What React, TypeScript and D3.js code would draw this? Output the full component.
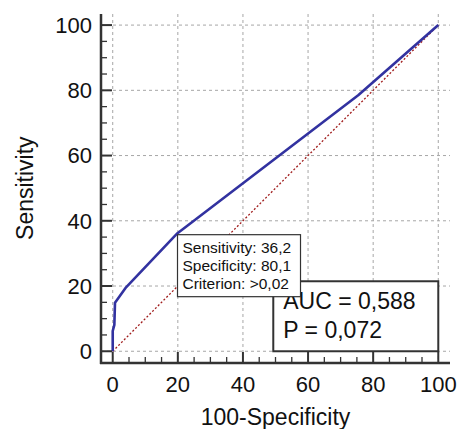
import * as d3 from 'd3';
import React, { useEffect, useRef } from 'react';

// ROC curve points (100-Specificity, Sensitivity)
const rocFpr = [0, 0, 0.5, 0.7, 4.1, 19.9, 75.4, 100];
const rocTpr = [0, 6.2, 8.1, 14.9, 19.6, 36.2, 78.5, 100];
const majorTicks = [0, 20, 40, 60, 80, 100];
const minorTicks = d3.range(0, 101, 5).filter(v => v % 20 !== 0);
const tipLines = ['Sensitivity: 36,2', 'Specificity: 80,1', 'Criterion: >0,02'];
const tipPoint = [19.9, 36.2];
const statLines = ['AUC = 0,588', 'P = 0,072'];

const W = 458;
const H = 429;
const FONT = 'Arial, "Liberation Sans", sans-serif';

const App = () => {
    const ref = useRef<SVGSVGElement | null>(null);

    useEffect(() => {
        if (!ref.current) return;
        const svg = d3.select(ref.current);
        svg.selectAll('*').remove();

        const left = 101, right = 450, top = 14, bottom = 363;
        const x = d3.scaleLinear().domain([-3.6, 103.6]).range([left, right]);
        const y = d3.scaleLinear().domain([-3.6, 103.4]).range([bottom, top]);

        // grid
        const grid = svg.append('g')
            .attr('stroke', '#a6a6a6')
            .attr('stroke-width', 1)
            .attr('stroke-dasharray', '3,3');
        majorTicks.forEach(v => {
            grid.append('line')
                .attr('x1', x(v)).attr('x2', x(v))
                .attr('y1', top).attr('y2', bottom);
            grid.append('line')
                .attr('x1', left).attr('x2', right)
                .attr('y1', y(v)).attr('y2', y(v));
        });

        // diagonal reference
        svg.append('line')
            .attr('x1', x(0)).attr('y1', y(0))
            .attr('x2', x(100)).attr('y2', y(100))
            .attr('stroke', '#a01c1c')
            .attr('stroke-width', 1.3)
            .attr('stroke-dasharray', '2,2');

        // ROC curve
        const pts = rocFpr.map((v, i) => [v, rocTpr[i]] as [number, number]);
        svg.append('path')
            .datum(pts)
            .attr('fill', 'none')
            .attr('stroke', '#3232a0')
            .attr('stroke-width', 2.6)
            .attr('stroke-linejoin', 'round')
            .attr('d', d3.line<[number, number]>().x(d => x(d[0])).y(d => y(d[1])));

        // axes
        const axis = svg.append('g').attr('stroke', '#333');
        axis.append('line')
            .attr('x1', left).attr('x2', left)
            .attr('y1', top).attr('y2', bottom + 1)
            .attr('stroke-width', 2.5);
        axis.append('line')
            .attr('x1', left - 1).attr('x2', right)
            .attr('y1', bottom).attr('y2', bottom)
            .attr('stroke-width', 2.5);
        majorTicks.forEach(v => {
            axis.append('line')
                .attr('x1', left).attr('x2', left + 11)
                .attr('y1', y(v)).attr('y2', y(v))
                .attr('stroke-width', 2);
            axis.append('line')
                .attr('x1', x(v)).attr('x2', x(v))
                .attr('y1', bottom).attr('y2', bottom - 11)
                .attr('stroke-width', 2);
        });
        minorTicks.forEach(v => {
            axis.append('line')
                .attr('x1', left).attr('x2', left + 6)
                .attr('y1', y(v)).attr('y2', y(v))
                .attr('stroke-width', 1.3);
            axis.append('line')
                .attr('x1', x(v)).attr('x2', x(v))
                .attr('y1', bottom).attr('y2', bottom - 6)
                .attr('stroke-width', 1.3);
        });

        // tick labels
        svg.append('g').selectAll('text')
            .data(majorTicks)
            .enter().append('text')
            .attr('x', left - 9)
            .attr('y', d => y(d))
            .attr('dy', '0.36em')
            .attr('text-anchor', 'end')
            .style('font-family', FONT)
            .style('font-size', '22px')
            .attr('fill', '#111')
            .text(d => d);
        svg.append('g').selectAll('text')
            .data(majorTicks)
            .enter().append('text')
            .attr('x', d => x(d))
            .attr('y', 392)
            .attr('text-anchor', 'middle')
            .style('font-family', FONT)
            .style('font-size', '22px')
            .attr('fill', '#111')
            .text(d => d);

        // axis titles
        svg.append('text')
            .attr('x', x(50))
            .attr('y', 425)
            .attr('text-anchor', 'middle')
            .style('font-family', FONT)
            .style('font-size', '23px')
            .attr('fill', '#111')
            .text('100-Specificity');
        svg.append('text')
            .attr('transform', `translate(33,${y(50)}) rotate(-90)`)
            .attr('text-anchor', 'middle')
            .style('font-family', FONT)
            .style('font-size', '23px')
            .attr('fill', '#111')
            .text('Sensitivity');

        // AUC box
        const bw = 165, bh = 70;
        const bx = x(100) - bw, by = y(0) - bh;
        svg.append('rect')
            .attr('x', bx).attr('y', by)
            .attr('width', bw).attr('height', bh)
            .attr('fill', 'white')
            .attr('stroke', '#333')
            .attr('stroke-width', 2);
        statLines.forEach((t, i) => {
            svg.append('text')
                .attr('x', bx + 10)
                .attr('y', by + 28 + i * 28.4)
                .style('font-family', FONT)
                .style('font-size', '23px')
                .attr('fill', '#111')
                .text(t);
        });

        // criterion tooltip
        const tx = x(tipPoint[0]), ty = y(tipPoint[1]) + 1.5;
        svg.append('rect')
            .attr('x', tx).attr('y', ty)
            .attr('width', 123).attr('height', 62)
            .attr('fill', 'white')
            .attr('stroke', '#333')
            .attr('stroke-width', 1.2);
        tipLines.forEach((t, i) => {
            svg.append('text')
                .attr('x', tx + 5)
                .attr('y', ty + 18 + i * 18.2)
                .style('font-family', FONT)
                .style('font-size', '15.5px')
                .attr('fill', '#111')
                .text(t);
        });
    }, []);

    return (
        <svg
            ref={ref}
            width={W}
            height={H}
            style={{ position: 'absolute', left: 0, top: 0, background: 'white' }}
        />
    );
};

export default App;
